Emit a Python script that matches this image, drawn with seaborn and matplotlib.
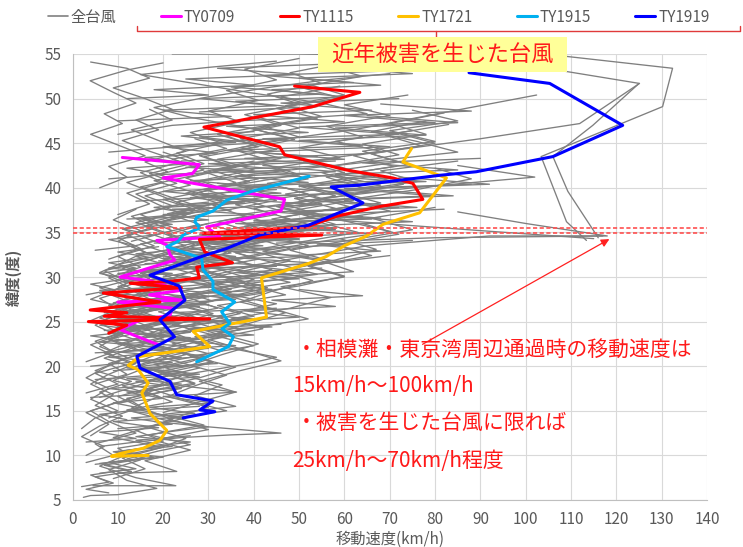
import numpy as np
import pandas as pd
import matplotlib
matplotlib.use("Agg")
import matplotlib.pyplot as plt
from matplotlib.lines import Line2D
from matplotlib.patches import Rectangle
import seaborn as sns

# 全台風 (speed km/h, latitude)
all_tracks = [
    [(2.4,5.3),(4,5.5),(10,5.6),(18.6,6.3),(12,7.2),(8,8.4),(15,9.5),(10,10.8),(20,11.6),(14,12.8),(22,14.0),(16,15.2),(12,16.4),(24,17.5),(18,18.6),(28,19.8),(20,21.0),(30,22.1),(24,23.4),(16,24.5),(26,25.8)],
    [(4.5,6.6),(22.8,6.6),(14,7.5),(6,8.8),(12,10.1),(20,10.9),(9,12.0),(17,13.2),(24,14.1),(13,15.3),(19,16.6),(11,17.8),(21,18.9),(15,20.1),(25,21.3),(18,22.4),(12,23.8),(22,25.0),(30,26.3),(21,27.5),(35,28.6),(27,29.8),(40,31.2),(33,32.5)],
    [(3,9.2),(9,10.0),(5,11.3),(14,12.5),(8,13.8),(4,15.0),(11,16.1),(18,17.3),(9,18.4),(15,19.6),(7,20.9),(13,22.0),(20,23.2),(10,24.5),(17,25.6),(8,26.8),(14,28.0),(22,29.1),(15,30.4),(25,31.5),(34,32.7),(28,34.0),(42,35.2),(36,36.5)],
    [(10,8.0),(23,8.2),(16,9.4),(26,10.6),(18,11.7),(30,12.9),(21,14.1),(34,15.0),(25,16.2),(17,17.5),(28,18.7),(36,19.9),(26,21.1),(40,22.3),(31,23.5),(22,24.7),(35,25.9),(45,27.0),(33,28.2),(48,29.4),(38,30.6)],
    [(6,11.0),(14,11.5),(24,12.0),(35,12.3),(46,12.5),(30,13.2),(20,14.0),(12,15.1),(22,16.0),(16,17.2),(27,18.1),(19,19.4),(31,20.5),(23,21.8),(14,23.0),(26,24.1),(20,25.4),(32,26.5),(25,27.8),(38,29.0)],
    [(4,12.2),(8,13.5),(3,14.8),(10,16.0),(6,17.1),(13,18.3),(5,19.5),(11,20.7),(17,21.8),(8,23.0),(14,24.2),(6,25.4),(12,26.5),(19,27.7),(10,28.9),(16,30.1),(24,31.3),(18,32.4),(27,33.6),(21,34.8),(30,36.0)],
    [(12,9.6),(19,10.5),(26,11.2),(17,12.3),(29,13.4),(20,14.6),(36,15.5),(27,16.7),(33,17.9),(24,19.0),(38,20.2),(45,21.0),(34,22.1),(27,23.3),(41,24.4),(52,25.3),(43,26.6),(35,27.8),(50,29.0),(60,30.1),(52,31.3),(70,32.4)],
    [(8,14.2),(15,15.4),(10,16.6),(18,17.7),(24,18.9),(14,20.0),(21,21.3),(29,22.5),(19,23.6),(27,24.8),(37,25.9),(28,27.1),(42,28.2),(34,29.5),(46,30.7),(57,31.8),(48,33.0),(62,34.2),(75,35.3),(66,36.6),(80,37.8)],
    [(5,18.0),(12,19.1),(8,20.3),(16,21.5),(11,22.6),(20,23.8),(14,25.0),(9,26.2),(18,27.3),(13,28.5),(23,29.7),(17,30.9),(28,32.0),(21,33.2),(33,34.4),(26,35.6),(38,36.8),(31,38.0),(44,39.1),(36,40.3),(50,41.5),(42,42.7)],
    [(10,15.8),(18,16.9),(27,18.0),(20,19.2),(31,20.4),(24,21.5),(15,22.7),(26,23.9),(35,25.0),(28,26.2),(19,27.4),(31,28.6),(40,29.7),(32,30.9),(24,32.1),(37,33.3),(46,34.5),(38,35.7),(55,36.9),(47,38.1),(62,39.3),(73,40.4),(64,41.6)],
    [(3,20.5),(9,21.6),(5,22.8),(12,24.0),(7,25.2),(14,26.3),(4,27.5),(10,28.7),(17,29.8),(11,31.0),(19,32.2),(13,33.4),(22,34.5),(16,35.7),(25,36.9),(19,38.1),(14,39.3),(23,40.5),(17,41.6),(27,42.8),(20,44.0)],
    [(14,17.0),(22,18.2),(16,19.4),(26,20.5),(33,21.7),(25,22.9),(37,24.1),(29,25.2),(21,26.4),(33,27.6),(43,28.8),(35,29.9),(27,31.1),(40,32.3),(52,33.5),(44,34.7),(58,35.9),(50,37.1),(68,38.3),(59,39.5),(76,40.7),(68,41.9),(85,43.0)],
    [(7,23.1),(15,24.3),(10,25.5),(19,26.7),(13,27.8),(24,29.0),(17,30.2),(10,31.4),(20,32.5),(28,33.7),(21,34.9),(14,36.1),(24,37.3),(33,38.5),(26,39.6),(18,40.8),(29,42.0),(22,43.2),(34,44.4),(27,45.5)],
    [(18,19.8),(28,20.9),(21,22.1),(34,23.3),(26,24.5),(40,25.6),(32,26.8),(47,28.0),(38,29.2),(54,30.3),(45,31.5),(36,32.7),(50,33.9),(63,35.0),(54,36.2),(70,37.4),(60,38.6),(76,39.8),(88,41.0),(80,42.2)],
    [(9,21.2),(4,22.4),(11,23.6),(6,24.8),(15,25.9),(9,27.1),(19,28.3),(12,29.5),(7,30.7),(16,31.8),(24,33.0),(17,34.2),(11,35.4),(20,36.5),(29,37.7),(22,38.9),(15,40.1),(26,41.3),(35,42.4),(28,43.6),(40,44.8),(32,46.0),(45,47.2)],
    [(12,24.0),(21,25.1),(14,26.3),(25,27.5),(17,28.7),(30,29.9),(22,31.0),(33,32.2),(26,33.4),(39,34.6),(31,35.8),(45,37.0),(36,38.1),(52,39.3),(43,40.5),(60,41.7),(51,42.9),(68,44.1),(58,45.2),(75,46.4)],
    [(6,16.5),(13,17.6),(20,18.8),(12,20.0),(18,21.2),(25,22.3),(16,23.5),(23,24.7),(31,25.9),(22,27.1),(29,28.2),(38,29.4),(29,30.6),(21,31.8),(33,32.9),(42,34.1),(34,35.3),(48,36.5),(40,37.7),(55,38.8),(47,40.0)],
    [(16,26.0),(24,27.2),(35,28.3),(26,29.5),(38,30.7),(48,31.8),(39,33.0),(30,34.2),(44,35.4),(56,36.6),(46,37.8),(62,38.9),(52,40.1),(66,41.3),(58,42.5),(72,43.7),(64,44.9),(78,46.0),(70,47.2),(82,48.4)],
    [(4,25.1),(10,26.4),(6,27.6),(13,28.7),(8,29.9),(15,31.1),(10,32.3),(18,33.5),(12,34.7),(21,35.8),(15,37.0),(24,38.2),(18,39.4),(12,40.6),(21,41.8),(16,42.9),(25,44.1),(19,45.3),(13,46.5),(22,47.6),(17,48.8)],
    [(11,28.0),(20,29.2),(30,30.3),(23,31.5),(35,32.7),(27,33.9),(40,35.0),(32,36.2),(46,37.4),(38,38.6),(29,39.8),(41,41.0),(33,42.1),(46,43.3),(37,44.5),(50,45.7),(42,46.9),(55,48.0),(47,49.2),(60,50.4),(52,51.6)],
    [(20,30.0),(32,31.1),(25,32.3),(38,33.4),(30,34.6),(45,35.8),(37,37.0),(55,38.2),(47,39.3),(63,40.5),(55,41.7),(72,42.9),(64,44.1),(80,45.2),(70,46.4),(85,47.5),(75,48.7)],
    [(8,32.0),(15,33.2),(10,34.4),(18,35.6),(13,36.8),(22,38.0),(16,39.1),(26,40.3),(19,41.5),(29,42.7),(23,43.9),(33,45.0),(26,46.2),(37,47.4),(30,48.6),(41,49.8),(34,50.9),(45,52.1),(38,53.3),(50,54.5)],
    [(25,28.5),(34,29.6),(44,30.8),(35,32.0),(48,33.2),(40,34.4),(55,35.5),(46,36.7),(61,37.9),(52,39.1),(68,40.3),(58,41.4),(74,42.6),(66,43.8),(80,45.0),(71,46.2)],
    [(13,34.0),(22,35.2),(16,36.4),(27,37.6),(20,38.7),(32,39.9),(25,41.1),(36,42.3),(29,43.5),(41,44.6),(34,45.8),(46,47.0),(38,48.2),(50,49.4),(43,50.5),(55,51.7),(48,52.9),(60,54.1)],
    [(30,33.0),(41,34.1),(52,35.3),(44,36.5),(58,37.7),(49,38.8),(64,40.0),(56,41.2),(71,42.4),(62,43.6),(77,44.7),(69,45.9),(83,47.1)],
    [(10,37.0),(17,38.2),(12,39.4),(20,40.6),(15,41.7),(24,42.9),(17,44.1),(11,45.3),(19,46.5),(14,47.6),(22,48.8),(16,50.0),(9,51.2),(17,52.3),(12,53.4),(4,54.1)],
    [(18,36.0),(26,37.1),(35,38.3),(28,39.5),(39,40.7),(31,41.9),(44,43.0),(36,44.2),(49,45.4),(40,46.6),(54,47.8),(45,48.9),(59,50.1),(50,51.3),(64,52.5),(55,53.7)],
    [(22,32.5),(15,33.7),(26,34.9),(19,36.1),(31,37.3),(23,38.4),(35,39.6),(28,40.8),(40,42.0),(32,43.2),(45,44.3),(37,45.5),(50,46.7),(41,47.9),(54,49.1),(46,50.2),(59,51.4)],
    [(34,37.5),(45,38.6),(38,39.8),(52,41.0),(44,42.2),(59,43.4),(50,44.5),(64,45.7),(56,46.9),(70,48.1),(60,49.3),(74,50.4)],
    [(6,40.0),(12,41.2),(8,42.4),(16,43.6),(10,44.8),(4,46.0),(11,47.2),(7,48.3),(14,49.5),(9,50.7),(3.9,52.0),(12,53.2),(20,54.0)],
    [(113.4,34.1),(109,36.2),(103.4,43.5),(130.2,49.1),(132.4,53.4),(106,54.9)],
    [(116,34.4),(109.3,39.6),(106,43.5),(114.8,47.0),(125,51.7)],
    [(30,30.5),(48,32.0),(65,33.5),(92,34.6),(118,34.6),(100,36.0),(85,37.3)],
    [(40,45.0),(62,46.5),(79.5,48.2),(102.4,50.4)],
    [(68,44.0),(90,45.5),(111.9,47.2),(125.1,51.7),(95,54.2)],
    [(50,38.5),(75,40.0),(102,41.2),(85,42.5)],
    [(22,55.0),(50,55.0),(74,54.8)],
    [(3,10.0),(7,11.0),(2,12.1),(6,13.3),(11,14.4),(5,15.6),(9,16.8),(4,18.0),(8,19.1),(14,20.3),(7,21.5),(12,22.6),(18,23.8),(11,25.0),(16,26.2),(23,27.3),(15,28.5),(21,29.7),(28,30.9),(20,32.1)],
    [(9,7.4),(16,8.5),(11,9.7),(19,10.8),(25,11.9),(17,13.1),(23,14.3),(30,15.4),(21,16.6),(27,17.8),(34,19.0),(26,20.1),(33,21.3),(41,22.5),(32,23.7),(39,24.8),(47,26.0),(37,27.2),(44,28.4),(53,29.6),(45,30.7),(58,31.9),(67,33.1),(59,34.3)],
    [(14,21.8),(8,23.0),(17,24.1),(10,25.3),(20,26.5),(13,27.6),(6,28.8),(15,30.0),(22,31.2),(14,32.3),(25,33.5),(18,34.7),(28,35.9),(21,37.1),(32,38.3),(25,39.4),(36,40.6),(29,41.8),(40,43.0)],
    [(20,14.8),(28,16.0),(36,17.1),(28,18.3),(37,19.5),(46,20.6),(38,21.8),(30,23.0),(42,24.2),(35,25.3),(48,26.5),(57,27.7),(46,28.9),(60,30.0),(52,31.2),(66,32.4),(58,33.6),(72,34.8),(64,36.0)],
    [(2,13.0),(5,14.2),(10,15.0),(4,16.3),(8,17.5),(3,18.7),(7,19.8),(12,21.0),(6,22.2),(10,23.4),(5,24.6),(9,25.7),(14,26.9),(8,28.1),(12,29.3),(6,30.5),(11,31.6),(16,32.8),(10,34.0),(15,35.2),(9,36.4),(14,37.6)],
    [(15,29.0),(25,29.5),(38,29.8),(50,30.2),(62,30.6),(55,31.8),(42,32.9),(55,34.0),(70,35.1),(60,36.3),(48,37.4),(62,38.6)],
    [(26,19.0),(18,20.2),(30,21.4),(22,22.5),(35,23.7),(27,24.9),(19,26.1),(31,27.3),(24,28.4),(36,29.6),(28,30.8),(41,32.0),(33,33.2),(47,34.3),(38,35.5),(53,36.7),(45,37.9),(58,39.1),(50,40.2),(65,41.4),(56,42.6)],
    [(10,46.0),(22,47.0),(36,47.5),(50,47.8),(65,48.3),(55,49.5),(40,50.6),(28,51.6),(15,52.7),(30,53.5),(45,54.2)],
    [(8,44.0),(20,44.5),(34,45.2),(48,45.6),(38,46.8),(26,47.9),(18,49.0),(30,50.2),(44,51.3),(56,52.1),(70,52.8)],
    [(25,40.5),(36,41.3),(48,42.0),(60,42.6),(72,43.3),(85,44.0),(76,45.2),(66,46.3),(78,47.5)],
    [(12,36.5),(40,37.0),(22,37.6),(55,38.1),(30,38.9),(62,39.4),(40,40.2),(70,40.8),(48,41.6),(25,42.3),(58,43.0)],
    [(15,30.8),(45,31.2),(25,31.9),(52,32.3),(32,33.0),(60,33.6),(38,34.3),(65,34.9),(45,35.6),(75,36.2),(55,37.0),(82,37.6)],
    [(8,26.5),(30,26.9),(15,27.5),(38,28.0),(20,28.6),(42,29.1),(25,29.8),(48,30.3),(30,31.0),(55,31.5),(35,32.2)],
    [(5,21.5),(22,21.9),(10,22.5),(28,23.0),(14,23.6),(33,24.1),(18,24.8),(40,25.3),(22,26.0),(45,26.5)],
    [(4,16.5),(18,16.9),(8,17.5),(24,18.0),(12,18.6),(28,19.1),(15,19.8),(32,20.3)],
    [(3,11.5),(14,11.9),(6,12.6),(19,13.1),(9,13.8),(24,14.3),(12,15.0),(28,15.5)],
    [(20,41.5),(48,42.0),(30,42.7),(60,43.2),(40,44.0),(70,44.6),(50,45.3),(78,45.9),(58,46.7),(85,47.3),(65,48.1)],
    [(10,47.5),(35,48.0),(20,48.7),(45,49.2),(28,50.0),(55,50.5),(35,51.3),(62,51.8),(42,52.6),(70,53.1)],
    [(18,33.8),(50,34.2),(28,34.8),(58,35.3),(36,36.0),(66,36.5),(44,37.3),(72,37.8),(52,38.6),(80,39.1),(60,39.9),(88,40.4)],
    [(6,28.5),(20,28.9),(11,29.5),(26,30.0),(15,30.6),(32,31.1),(19,31.8),(36,32.3),(24,33.0),(42,33.5),(28,34.2)],
    [(9,19.5),(25,20.0),(14,20.6),(30,21.1),(18,21.8),(36,22.3),(22,23.0),(40,23.5),(26,24.2),(46,24.7)],
    [(14,38.5),(32,39.0),(20,39.6),(42,40.1),(26,40.8),(50,41.3),(32,42.0),(58,42.5),(38,43.3),(64,43.8)],
    [(24,43.0),(54,43.5),(34,44.2),(64,44.7),(42,45.5),(72,46.0),(50,46.8),(80,47.3),(60,48.1),(88,48.6),(68,49.4)],
    [(12,50.0),(30,50.4),(18,51.0),(40,51.5),(25,52.2),(50,52.7),(32,53.4),(58,53.9)],
    [(7,24.0),(16,24.4),(5,25.0),(20,25.5),(9,26.1),(24,26.6),(12,27.2),(28,27.7),(16,28.3)],
    [(10,13.0),(22,13.5),(13,14.2),(27,14.7),(17,15.4),(31,15.9),(20,16.6),(36.2,17.1),(24,17.8)],
    [(3,17.0),(10,18.0),(5,19.2),(13,20.3),(7,21.5),(16,22.6),(9,23.8),(19,25.0),(12,26.1),(22,27.3)],
    [(30,35.0),(58,35.4),(40,36.1),(68,36.6),(48,37.3),(76,37.8),(56,38.6),(84,39.1),(64,39.9),(92,40.4),(72,41.2)],
    [(16,31.5),(35,31.9),(22,32.6),(44,33.1),(28,33.8),(50,34.3),(34,35.0),(58,35.5),(40,36.3),(64,36.8)],
    [(5,33.0),(14,33.5),(8,34.2),(18,34.7),(11,35.4),(22,35.9),(14,36.6),(26,37.1),(18,37.8),(30,38.4)],
    [(22,44.5),(40,45.0),(28,45.7),(52,46.2),(34,46.9),(60,47.4),(40,48.2),(66,48.7),(46,49.5),(72,50.0)],
    [(8,41.0),(20,41.5),(12,42.2),(26,42.7),(16,43.4),(32,43.9),(20,44.6),(36,45.1),(24,45.8),(40,46.3)],
    [(26,24.0),(44,24.4),(32,25.0),(50,25.5),(38,26.2),(58,26.7),(44,27.4),(64,27.9),(50,28.6)],
    [(6,8.0),(14,8.5),(8,9.2),(18,9.8),(11,10.5),(22,11.0),(14,11.7),(26,12.2)],
    [(2,6.5),(8,7.0),(4,7.8),(12,8.4),(6,9.1),(16,9.7),(9,10.4),(19,11.0)],
    [(34,30.0),(52,30.5),(40,31.2),(60,31.7),(48,32.4),(68,32.9),(54,33.6),(75,34.1)],
    [(40,39.0),(66,39.5),(50,40.2),(78,40.7),(58,41.5),(85,42.0),(64,42.8),(90,43.3)],
    [(28,48.5),(50,49.0),(36,49.7),(60,50.2),(44,51.0),(68,51.5),(50,52.3),(75,52.8),(56,53.6),(80,54.1)],
    [(13,22.8),(4,23.4),(15,24.0),(6,24.6),(18,25.2),(8,25.8),(20,26.4),(10,27.0),(22,27.6)],
    [(20,27.0),(36,27.5),(26,28.1),(44,28.6),(30,29.3),(50,29.8),(36,30.5),(55,31.0)],
    [(45,33.8),(80,34.4),(117,34.6)],
    [(55,36.5),(90,35.2),(115,34.3)],
    [(5,18.5),(15,18.9),(25,19.3),(12,19.8),(22,20.4),(8,21.0),(20,21.6),(30,22.0),(16,22.6),(26,23.2),(10,23.8),(22,24.4),(32,25.0),(18,25.6)],
    [(7,26.0),(18,26.3),(28,26.7),(14,27.2),(24,27.7),(6,28.2),(18,28.7),(30,29.2),(20,29.8),(10,30.4),(24,31.0),(34,31.5),(20,32.1),(30,32.7)],
    [(10,30.0),(22,30.4),(8,31.0),(18,31.5),(28,32.0),(14,32.6),(24,33.1),(36,33.6),(20,34.2),(32,34.8),(42,35.2)],
    [(4,20.0),(14,20.5),(24,21.0),(10,21.6),(20,22.1),(6,22.7),(16,23.2),(26,23.8),(12,24.4),(24,24.9),(8,25.5)],
    [(12,14.0),(6,14.6),(16,15.2),(9,15.9),(20,16.4),(12,17.1),(24,17.6),(14,18.3),(28,18.8),(18,19.5)],
    [(15,36.0),(30,36.4),(20,37.0),(35,37.5),(25,38.1),(42,38.6),(28,39.3),(45,39.8),(32,40.5)],
    [(3,28.0),(9,28.6),(4,29.2),(12,29.8),(6,30.4),(14,31.0),(8,31.6),(17,32.2),(10,32.8),(19,33.4)],
    [(20,37.8),(38,38.3),(26,38.9),(46,39.4),(30,40.1),(52,40.6),(36,41.3),(58,41.8),(42,42.5)],
    [(5,9.0),(12,9.4),(20,9.8),(10,10.4),(18,11.0),(26,11.5),(14,12.1),(22,12.7),(30,13.2),(18,13.8)],
    [(8,5.8),(3,6.2),(9,6.9),(5,7.6),(13,8.2),(7,8.9),(15,9.6)],
]

ty0709 = [(11,43.4),(28,42.6),(26.5,41.6),(20,41.1),(46.8,38.7),(46,37.4),(29.6,35.6),(32.5,34.5),(18.6,34.1),
          (20.8,33.6),(21.5,32.5),(22.6,31.9),(10.5,30.0),(17,29.6),(24,28.5),(17,28.0),(24,27.4),(10,27.2),
          (22,26.5),(21.5,25.7),(15,25.2),(10.5,24.1),(16.4,22.9),(19,22.4)]
ty1115 = [(49,51.4),(63.4,50.7),(53,49.1),(29,46.8),(45.7,44.6),(46.8,43.7),(60.4,42.0),(70.7,41.1),(75.1,40.5),
          (77.3,38.7),(67.8,37.9),(58.2,36.8),(51.6,35.6),(28.8,34.9),(55,34.7),(28,34.2),(29.2,32.8),(35.3,31.6),
          (27.4,31.1),(28,29.9),(21.5,29.5),(12.7,29.3),(24,28.8),(6.8,28.2),(19.3,27.2),(12,26.8),(3.9,26.3),
          (12,26.0),(7,25.6),(30.3,25.3),(3.5,25.0),(12,24.6),(8,23.7)]
ty1721 = [(74.8,44.4),(72.9,42.9),(82.5,41.1),(76.6,37.2),(68.5,35.9),(64.9,34.6),(60,33.5),(56,32.3),(52,31.5),
          (41.7,29.9),(42.8,25.5),(26.6,23.9),(30.3,22.2),(14.9,21.1),(12.3,20.1),(14.5,19.6),(16.7,18.1),
          (15.3,17.0),(17.1,14.7),(20.8,12.8),(19.3,11.7),(15.6,10.8),(10.5,10.2),(8.6,9.9),(16.7,10.0)]
ty1915 = [(52.2,41.3),(39.5,39.6),(34,38.6),(31,37.4),(27.4,36.7),(27,36.2),(28.1,35.5),(24.4,34.7),(23.3,34.0),
          (20.8,33.4),(28.5,32.1),(28.8,30.8),(31,29.5),(31,28.6),(35.8,27.2),(32.9,26.1),(34.7,24.8),(33,24.2),
          (35.5,23.3),(34.4,22.2),(27.4,20.5)]
ty1919 = [(87.5,52.9),(105.3,51.7),(121.4,47.0),(106,43.5),(89.1,41.8),(81,41.4),(63.4,40.3),(57.1,40.1),
          (64.1,38.3),(52,35.8),(41.3,34.7),(34,33.2),(28.5,32.3),(17.1,30.2),(23.5,29.0),(24.8,27.4),(19.3,25.2),
          (22.5,23.3),(14.2,21.1),(14.9,19.8),(21.5,18.3),(23,16.8),(31,16.1),(28.1,15.1),(31.4,14.9),(24.4,14.2)]

named = [("TY0709", ty0709, "#FF00FF"), ("TY1115", ty1115, "#FF0000"), ("TY1721", ty1721, "#FFC000"),
         ("TY1915", ty1915, "#00B0F0"), ("TY1919", ty1919, "#0000FF")]

sns.set_style("white")
plt.rcParams['font.family'] = ['Noto Sans CJK JP', 'DejaVu Sans']
txt_gray = "#595959"

fig = plt.figure(figsize=(7.43, 5.47), dpi=100)
ax = fig.add_axes([72.5/743, 1-500/547, (707-72.5)/743, (500-54)/547])

rows = []
for i, tr in enumerate(all_tracks):
    for j, (s, la) in enumerate(tr):
        rows.append((i, j, s, la))
gray_df = pd.DataFrame(rows, columns=["track", "step", "speed", "lat"])
sns.lineplot(data=gray_df, x="speed", y="lat", units="track", estimator=None, sort=False,
             color="#7F7F7F", lw=0.95, ax=ax, zorder=2)

for name, pts, c in named:
    d = pd.DataFrame(pts, columns=["speed", "lat"])
    sns.lineplot(data=d, x="speed", y="lat", sort=False, estimator=None, color=c, lw=2.2, ax=ax, zorder=4)

# 相模灘・東京湾周辺 latitude band
for la in (35.5, 34.9):
    ax.axhline(la, color="#FF5050", lw=1.2, ls=(0, (2.5, 1.5)), zorder=5)

ax.annotate("", xy=(119, 34.4), xytext=(76.7, 22.3),
            arrowprops=dict(arrowstyle="-|>", color="#FF2020", lw=0.9, mutation_scale=12), zorder=6)

red = "#FF1A1A"
ax.text(49.3, 21.8, "・相模灘・東京湾周辺通過時の移動速度は", color=red, fontsize=15, va="center", ha="left", zorder=6)
ax.text(48.5, 17.8, "15km/h～100km/h", color=red, fontsize=15, va="center", ha="left", zorder=6)
ax.text(49.3, 13.6, "・被害を生じた台風に限れば", color=red, fontsize=15, va="center", ha="left", zorder=6)
ax.text(48.5, 9.4, "25km/h～70km/h程度", color=red, fontsize=15, va="center", ha="left", zorder=6)

ax.set_xlim(0, 140)
ax.set_ylim(5, 55)
ax.set_xticks(np.arange(0, 141, 10))
ax.set_yticks(np.arange(5, 56, 5))
ax.grid(True, color="#D9D9D9", lw=0.8)
ax.set_axisbelow(True)
for s in ("top", "right"):
    ax.spines[s].set_visible(False)
for s in ("left", "bottom"):
    ax.spines[s].set_color("#BFBFBF")
ax.tick_params(length=0, labelsize=11, labelcolor=txt_gray, pad=8)
ax.set_xlabel("移動速度(km/h)", fontsize=11, color=txt_gray, labelpad=2)
ax.set_ylabel("緯度(度)", fontsize=11, color=txt_gray, labelpad=16, fontweight="bold")

# legend across the top
handles = [Line2D([], [], color="#808080", lw=1.2)] + [Line2D([], [], color=c, lw=2.2) for _, _, c in named]
labels = ["全台風"] + [n for n, _, _ in named]
fig.legend(handles, labels, ncol=6, loc="center left", bbox_to_anchor=(48/743, 1-17/547),
           frameon=False, fontsize=11, handlelength=1.3, handletextpad=0.2, columnspacing=2.9,
           borderpad=0, borderaxespad=0, labelcolor=txt_gray)

# bracket + highlighted box
bc = "#E03A3A"
fig.add_artist(Line2D([137/743, 137/743, 740/743, 740/743], [1-26/547, 1-31/547, 1-31/547, 1-26/547],
                      color=bc, lw=1, transform=fig.transFigure))
fig.add_artist(Line2D([436/743, 436/743], [1-31/547, 1-37/547], color=bc, lw=1, transform=fig.transFigure))
fig.add_artist(Rectangle((318/743, 1-72/547), 249/743, 35/547, transform=fig.transFigure,
                         facecolor="#FFFF99", edgecolor="none", zorder=5))
fig.text(442/743, 1-55/547, "近年被害を生じた台風", color=red, fontsize=16, ha="center", va="center", zorder=6)

fig.savefig("out.png", dpi=100)
